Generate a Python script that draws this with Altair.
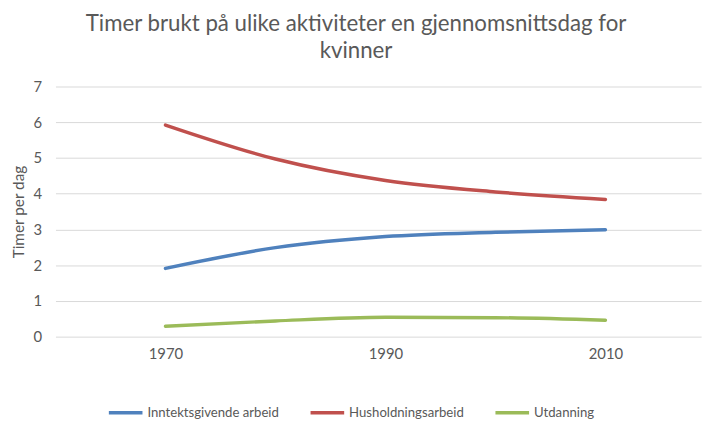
import altair as alt
import pandas as pd

years = [1970, 1980, 1990, 2000, 2010]
inntekt = [1.91, 2.49, 2.80, 2.92, 2.99]
husholdning = [5.92, 4.97, 4.37, 4.05, 3.84]
utdanning = [0.29, 0.44, 0.54, 0.53, 0.46]

series = ["Inntektsgivende arbeid", "Husholdningsarbeid", "Utdanning"]
colors = ["#4F81BD", "#C0504D", "#9BBB59"]

rows = []
for name, values in zip(series, [inntekt, husholdning, utdanning]):
    for year, v in zip(years, values):
        rows.append({"year": year, "timer": v, "aktivitet": name})
df = pd.DataFrame(rows)

grey = "#595959"
font = "Lato"

chart = (
    alt.Chart(df)
    .mark_line(strokeWidth=3.5, interpolate="monotone", strokeCap="round")
    .encode(
        x=alt.X(
            "year:Q",
            title=None,
            scale=alt.Scale(domain=[1960, 2018.7], nice=False, zero=False),
            axis=alt.Axis(
                values=[1970, 1990, 2010],
                format="d",
                grid=False,
                domain=False,
                ticks=False,
                labelPadding=10,
                labelFontSize=15,
                labelColor=grey,
                labelFont=font,
            ),
        ),
        y=alt.Y(
            "timer:Q",
            title="Timer per dag",
            scale=alt.Scale(domain=[0, 7], nice=False),
            axis=alt.Axis(
                values=[0, 1, 2, 3, 4, 5, 6, 7],
                domain=False,
                ticks=False,
                gridColor="#D9D9D9",
                labelPadding=14,
                labelFontSize=15,
                labelColor=grey,
                labelFont=font,
                titleFont=font,
                titleFontSize=15.5,
                titleFontWeight="normal",
                titleColor=grey,
                titlePadding=7,
            ),
        ),
        color=alt.Color(
            "aktivitet:N",
            title=None,
            sort=series,
            scale=alt.Scale(domain=series, range=colors),
            legend=alt.Legend(
                orient="none",
                direction="horizontal",
                legendX=52,
                legendY=311,
                symbolType="stroke",
                symbolSize=1156,
                symbolStrokeWidth=3.5,
                labelFontSize=13.3,
                labelFont=font,
                labelColor=grey,
                labelOffset=3,
                columnPadding=24,
            ),
        ),
    )
    .properties(
        width=653,
        height=253,
        autosize=alt.AutoSizeParams(type="none"),
        padding={"left": 48, "top": 77, "right": 10, "bottom": 89},
        title=alt.Title(
            ["Timer brukt på ulike aktiviteter en gjennomsnittsdag for", "kvinner"],
            anchor="middle",
            dx=-22.5,
            offset=17,
            fontSize=22.5,
            font=font,
            fontWeight="normal",
            color=grey,
            lineHeight=28,
        ),
    )
    .configure_view(stroke=None)
)

chart.save("out.html", embed_options={"renderer": "svg", "actions": False})
